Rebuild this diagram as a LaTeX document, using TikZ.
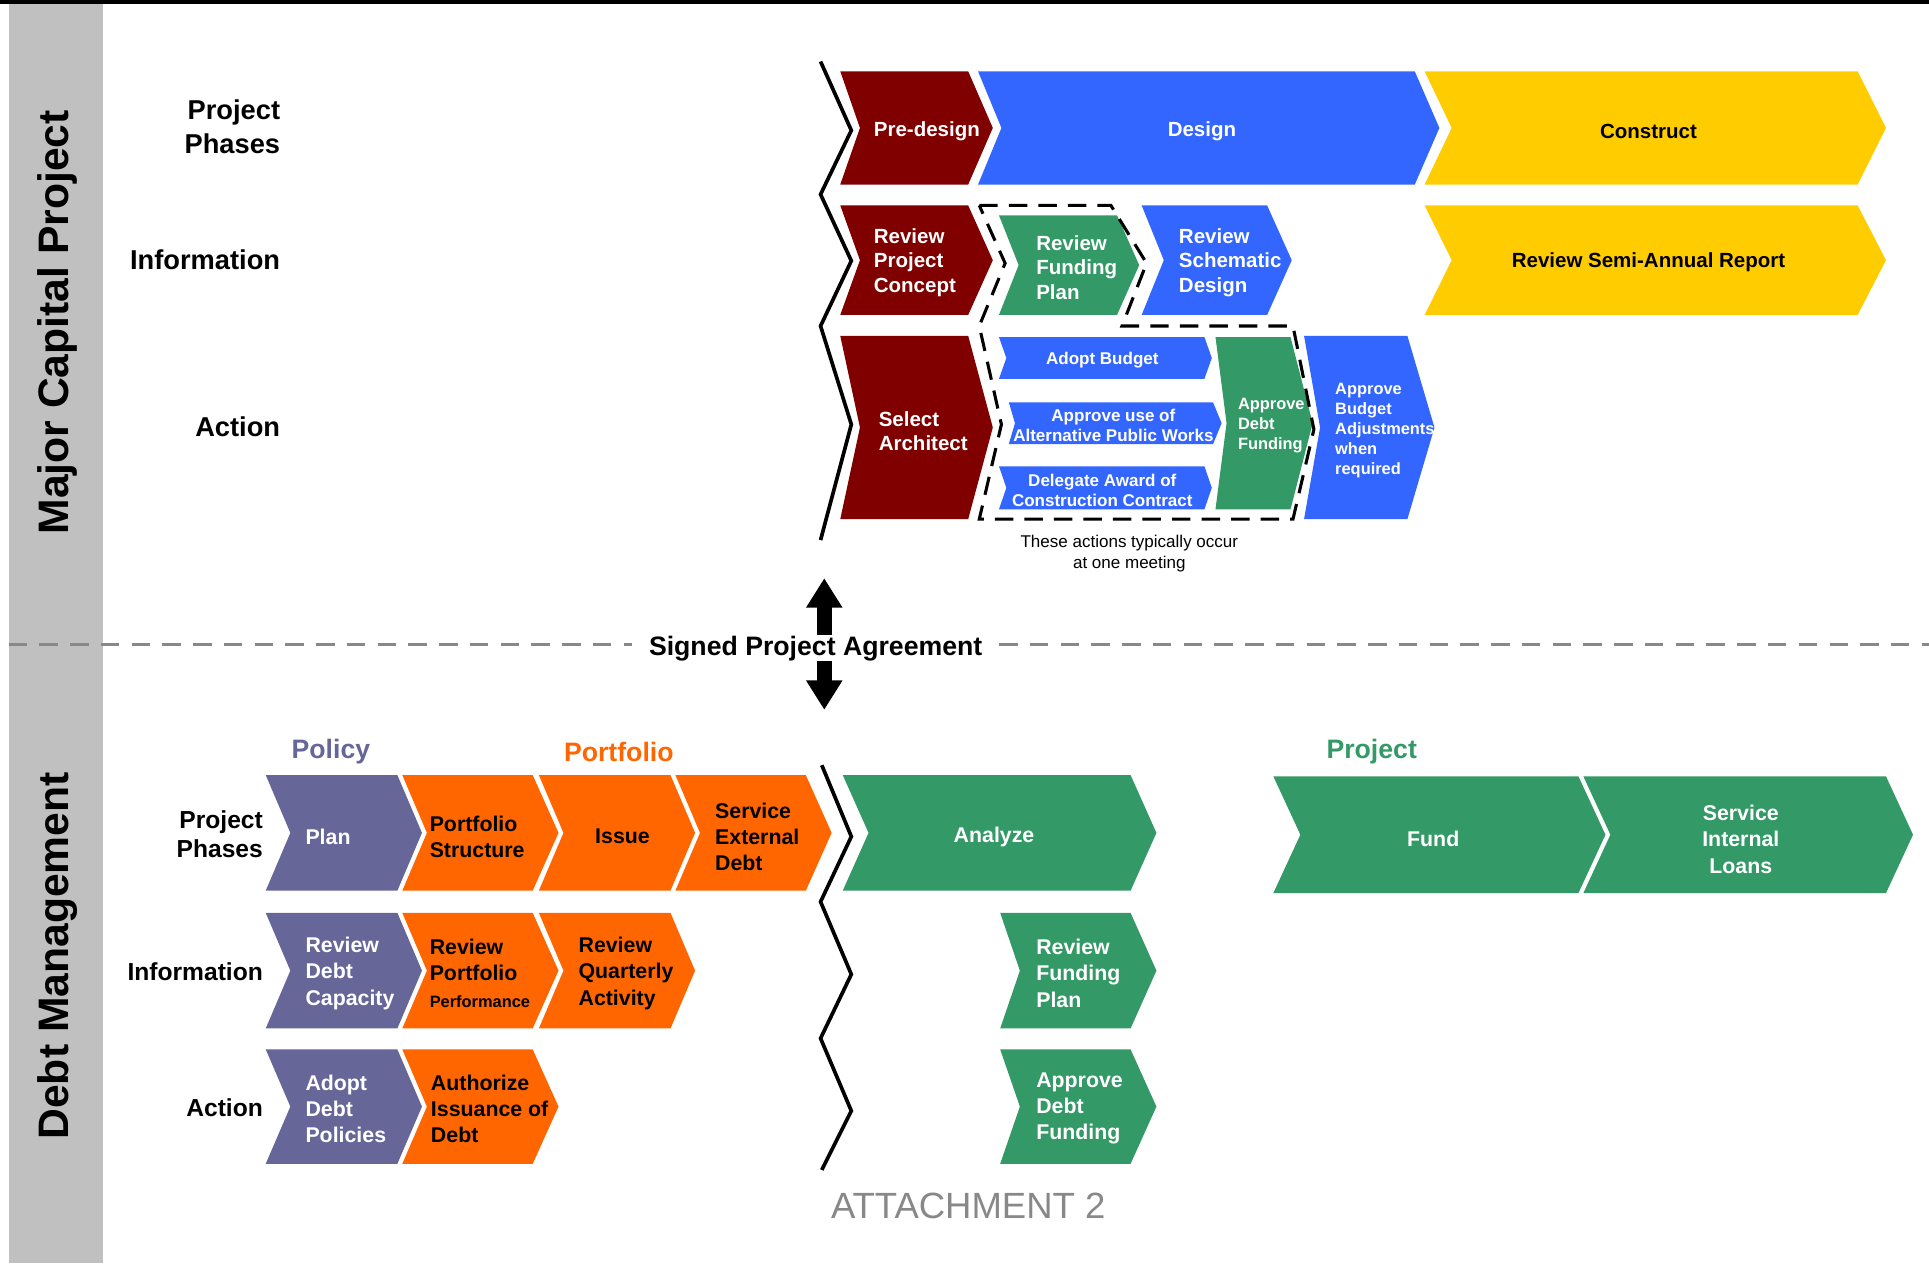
\documentclass[tikz,border=0pt]{standalone}
\usepackage{fontspec}
\setmainfont{Liberation Sans}
\usetikzlibrary{arrows.meta}

\definecolor{dred}{HTML}{800000}
\definecolor{dblue}{HTML}{3366FF}
\definecolor{yel}{HTML}{FFCC00}
\definecolor{dgreen}{HTML}{339966}
\definecolor{purp}{HTML}{666699}
\definecolor{orng}{HTML}{FF6600}
\definecolor{sidegray}{HTML}{C0C0C0}
\definecolor{sepgray}{HTML}{888888}

\begin{document}
\begin{tikzpicture}[x=0.6pt, y=-0.6pt, >={Triangle[length=14.4pt,width=16.8pt]},
  side/.style={rotate=90, font=\bfseries\fontsize{20.8}{24}\selectfont},
  lbl/.style={font=\bfseries\fontsize{13.3}{16.8}\selectfont, align=right, anchor=east, inner sep=0pt},
  lbltwo/.style={font=\bfseries\fontsize{12}{13.8}\selectfont, align=right, anchor=east, inner sep=0pt},
  head/.style={font=\bfseries\fontsize{13}{15}\selectfont, yshift=-1.2pt},
  wt/.style={text=white, font=\bfseries\fontsize{10}{12}\selectfont, align=left, inner sep=0pt, yshift=-1.5pt},
  bk/.style={wt, text=black},
  wb/.style={text=white, font=\bfseries\fontsize{10.4}{12.8}\selectfont, align=left, inner sep=0pt, yshift=-1.3pt},
  kb/.style={wb, text=black},
  sm/.style={text=white, font=\bfseries\fontsize{8.3}{9.8}\selectfont, align=center, inner sep=0pt, yshift=-1.2pt},
  tn/.style={text=white, font=\bfseries\fontsize{8}{9.8}\selectfont, align=left, inner sep=0pt, yshift=-1.2pt},
  note/.style={font=\fontsize{8.3}{10}\selectfont, align=center, inner sep=0pt, yshift=-1.2pt},
  sep/.style={draw=sepgray, line width=1.5pt, dash pattern=on 9pt off 6pt},
  zig/.style={line width=1.8pt}]

\useasboundingbox (0,0) rectangle (1568,1027);

% frame and side bar
\fill[black] (0,0) rectangle (1568,3);
\fill[sidegray] (7,3) rectangle (84,1027);
\node[side] (mcp) at (47,262) {Major Capital Project};
\node[side] (debtm) at (47,777) {Debt Management};

% row labels
\node[lbl] (tphases) at (228,103) {Project\\Phases};
\node[lbl] (tinfo) at (228,211) {Information};
\node[lbl] (taction) at (228,347) {Action};
\node[lbltwo] (bphases) at (214,678) {Project\\Phases};
\node[lbltwo] (binfo) at (214,790) {Information};
\node[lbltwo] (baction) at (214,900) {Action};

% chevrons: left, right, top, bottom, notch, point, colour
\foreach \xa/\xb/\ya/\yb/\n/\p/\col in {
	683/787/58/150/16/20/dred, 795/1150/58/150/19/20/dblue, 1158/1510/58/150/22/23/yel,
	683/787/167/256/16/20/dred, 812/908/175/256/16/18/dgreen, 928/1030/167/256/18/20/dblue,
	1158/1510/167/256/22/23/yel,
	683/787/273/422/16/20/dred, 812/979/274/308/6/6/dblue, 820/986/327/361/5/7/dblue,
	812/979/379/414/6/6/dblue, 988/1049/274/414/9/18/dgreen, 1060/1144/273/422/13/22/dblue,
	216/323/630/724/20/20/purp, 327/433/630/724/20/21/orng, 438/545/630/724/20/20/orng,
	549/655/630/724/20/21/orng, 685/919/630/724/21/21/dgreen,
	1035/1283/631/726/22/22/dgreen, 1287/1533/631/726/22/22/dgreen,
	216/323/742/836/20/20/purp, 327/433/742/836/20/21/orng, 438/545/742/836/20/20/orng,
	813/919/742/836/16/21/dgreen,
	216/323/853/946/20/20/purp, 327/433/853/946/20/21/orng, 813/919/853/946/16/21/dgreen}{
	\fill[fill=\col] (\xa,\ya)--(\xb,\ya)--({\xb+\p},{(\ya+\yb)/2})--(\xb,\yb)--(\xa,\yb)--({\xa+\n},{(\ya+\yb)/2})--cycle;
}

% break lines
\draw[zig] (667,50)--(692,106)--(667,158)--(692,212)--(667,265)--(692,345)--(667,439);
\draw[zig] (668,622)--(692,680)--(667,733)--(692,792)--(667,844)--(692,903)--(668,951);

% one meeting box
\draw[line width=1.5pt, dash pattern=on 9pt off 5.4pt]
	(796,167)--(903,167)--(932,214)--(912,265)--(1051,265)--(1068,349)--(1051,422)
	--(796,422)--(814,345)--(796,265)--(817,214)--cycle;

% top texts
\node[wt, anchor=west] (predesign) at (710,104) {Pre-design};
\node[wt] (design) at (977,104) {Design};
\node[bk] (construct) at (1340,104) {Construct};
\node[wt, anchor=west] (revconcept) at (710,211) {Review\\Project\\Concept};
\node[wt, anchor=west] (revfund) at (842,215) {Review\\Funding\\Plan};
\node[wt, anchor=west] (revschem) at (958,211) {Review\\Schematic\\Design};
\node[bk] (revreport) at (1340,211) {Review Semi-Annual Report};
\node[wt, anchor=west] (selarch) at (714,348) {Select\\Architect};
\node[sm] (adoptbud) at (896,291) {Adopt Budget};
\node[sm] (altworks) at (905,344) {Approve use of\\Alternative Public Works};
\node[sm] (delegate) at (896,397) {Delegate Award of\\Construction Contract};
\node[tn, anchor=west] (appdebt) at (1006,344) {Approve\\Debt\\Funding};
\node[tn, anchor=west] (appadj) at (1085,348) {Approve\\Budget\\Adjustments\\when\\required};
\node[note] (meeting) at (918,448) {These actions typically occur\\at one meeting};

% agreement
\node[font=\bfseries\fontsize{13}{15}\selectfont, inner xsep=8pt, inner ysep=0pt] (spa) at (663,527) {Signed Project Agreement};
\coordinate (sepl) at (7,524);
\coordinate (sepr) at (1568,524);
\draw[sep] (sepl) -- (sepl -| spa.west);
\draw[sep] (spa.east |- sepr) -- (sepr);
\coordinate (uptip) at (670,470);
\coordinate (dntip) at (670,577);
\draw[->, line width=7.2pt] (spa.north -| uptip) -- (uptip);
\draw[->, line width=7.2pt] (spa.south -| dntip) -- (dntip);

% bottom headers
\node[head, text=purp] (policy) at (269,609) {Policy};
\node[head, text=orng] (portfolio) at (503,609) {Portfolio};
\node[head, text=dgreen] (project) at (1115,609) {Project};

% bottom texts
\node[wb, anchor=west] (plan) at (248,678) {Plan};
\node[kb, anchor=west] (portstruct) at (349,678) {Portfolio\\Structure};
\node[kb] (issue) at (506,678) {Issue};
\node[kb, anchor=west] (servext) at (581,678) {Service\\External\\Debt};
\node[wb] (analyze) at (808,678) {Analyze};
\node[wb] (fund) at (1165,680) {Fund};
\node[wb, align=center] (servint) at (1415,680) {Service\\Internal\\Loans};
\node[wb, anchor=west] (revcap) at (248,789) {Review\\Debt\\Capacity};
\node[kb, anchor=west] (revperf) at (349,789) {Review\\Portfolio\\{\fontsize{8}{12.8}\selectfont Performance}};
\node[kb, anchor=west] (revquart) at (470,789) {Review\\Quarterly\\Activity};
\node[wb, anchor=west] (revfundb) at (842,789) {Review\\Funding\\Plan};
\node[wb, anchor=west] (adoptpol) at (248,899) {Adopt\\Debt\\Policies};
\node[kb, anchor=west] (authorize) at (350,899) {Authorize\\Issuance of\\Debt};
\node[wb, anchor=west] (appdebtb) at (842,899) {Approve\\Debt\\Funding};

\node[text=sepgray, font=\fontsize{17.8}{20}\selectfont] (attach) at (787,980) {ATTACHMENT 2};

\end{tikzpicture}
\end{document}
